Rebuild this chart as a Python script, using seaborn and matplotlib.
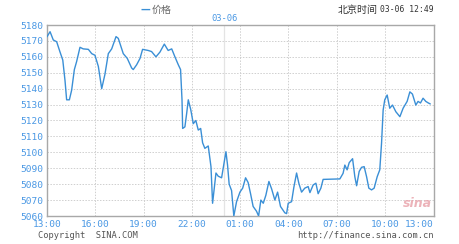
import matplotlib
matplotlib.use("Agg")
import matplotlib.pyplot as plt
import seaborn as sns
import pandas as pd

# hours elapsed since 13:00 (previous day) and price
hours = [0.00, 0.19, 0.39, 0.60, 0.81, 0.98, 1.12, 1.22, 1.39, 1.53, 1.70, 1.84,
         2.05, 2.25, 2.57, 2.78, 2.98, 3.19, 3.40, 3.60, 3.81, 4.02, 4.29, 4.43,
         4.74, 4.99, 5.26, 5.36, 5.57, 5.78, 5.94, 6.29, 6.50, 6.77, 7.02, 7.29,
         7.53, 7.75, 7.95, 8.16, 8.30, 8.39, 8.43, 8.57, 8.68, 8.78, 8.93, 9.09,
         9.25, 9.40, 9.55, 9.67, 9.81, 10.02, 10.19, 10.29, 10.50, 10.64, 10.85,
         11.12, 11.22, 11.32, 11.47, 11.61, 11.78, 11.99, 12.16, 12.34, 12.50,
         12.65, 12.81, 13.02, 13.15, 13.29, 13.44, 13.60, 13.79, 13.96, 14.16,
         14.33, 14.51, 14.78, 14.89, 14.99, 15.20, 15.34, 15.51, 15.65, 15.82,
         16.02, 16.23, 16.34, 16.54, 16.71, 16.85, 17.02, 17.16, 18.20, 18.40,
         18.51, 18.65, 18.78, 18.99, 19.13, 19.24, 19.40, 19.55, 19.71, 19.86,
         20.00, 20.17, 20.33, 20.52, 20.68, 20.79, 20.89, 20.99, 21.14, 21.30,
         21.47, 21.68, 21.93, 22.13, 22.38, 22.55, 22.71, 22.92, 23.06, 23.21,
         23.37, 23.54, 23.70, 23.82]
price = [5172.6, 5175.8, 5170.6, 5169.5, 5163, 5158, 5145, 5133, 5133, 5139,
         5152, 5157, 5166, 5165, 5164.7, 5162, 5161, 5154, 5140, 5149, 5162,
         5165, 5172.7, 5171.6, 5162, 5159, 5153, 5152, 5155, 5159, 5164.7,
         5164, 5163.3, 5160, 5163, 5168, 5164, 5165, 5160, 5155, 5152, 5133,
         5115, 5116, 5124.5, 5133, 5127, 5118, 5120, 5114, 5115, 5106, 5102.5,
         5104, 5091, 5068, 5087, 5085, 5084, 5100.4, 5092, 5080, 5076, 5060,
         5069, 5075, 5077.5, 5084, 5081, 5074, 5066, 5063, 5060, 5070, 5068,
         5073, 5081.7, 5077, 5070, 5075, 5066, 5062, 5061.5, 5068, 5069, 5078,
         5087, 5080.6, 5075, 5077.5, 5078.5, 5074.7, 5079.5, 5080.6, 5074,
         5077.5, 5083, 5083.3, 5086.8, 5092, 5089, 5093.5, 5096, 5084.7, 5079,
         5088, 5090.6, 5091, 5084.7, 5077.5, 5076.4, 5077.5, 5084.7, 5089,
         5105.7, 5126.6, 5133, 5136, 5127.7, 5129.7, 5125.5, 5122.4, 5127.7,
         5132, 5138, 5136.6, 5129.7, 5132, 5131, 5134, 5132, 5131, 5130.4]

x_ticks = [0, 3, 6, 9, 12, 15, 18, 21, 24]
x_labels = ["13:00", "16:00", "19:00", "22:00", "01:00", "04:00", "07:00", "10:00", "13:00"]
y_ticks = list(range(5060, 5181, 10))

df = pd.DataFrame({"h": hours, "price": price})

sns.set_theme(style="white")
plt.rcParams['font.family'] = ['DejaVu Sans Mono', 'Noto Sans CJK SC']

fig = plt.figure(figsize=(4.6, 2.44), dpi=100)
ax = fig.add_axes([47/460, 1-216/244, (434-47)/460, (216-25)/244])

blue = "#3a8fd6"
lab_blue = "#4a98e4"
sns.lineplot(data=df, x="h", y="price", ax=ax, color=blue, linewidth=1.0, zorder=3)

ax.set_xlim(0, 24.05)
ax.set_ylim(5060, 5180)
ax.set_xticks(x_ticks)
ax.set_xticklabels(x_labels)
ax.set_yticks(y_ticks)
ax.tick_params(axis="both", length=0, labelsize=6.8, colors=lab_blue, pad=3)
lbls = ax.get_xticklabels()
lbls[-1].set_horizontalalignment("right")
lbls[-1].set_x(24.05)
ax.set_xlabel("")
ax.set_ylabel("")

for y in y_ticks[1:-1]:
    ax.axhline(y, color="#cfcfcf", lw=0.7, ls=(0, (1.5, 1.5)), zorder=1)
for x in x_ticks[1:-1]:
    ax.axvline(x, color="#cfcfcf", lw=0.7, ls=(0, (1.5, 1.5)), zorder=1)
ax.axvline(11, color="#e4e4e4", lw=0.9, zorder=1)

for s in ax.spines.values():
    s.set_color("#a8a8a8")
    s.set_linewidth(1.0)

# texts
fig.text(141/460, 1-10/244, "\u2014", color=blue, fontsize=7, fontweight="bold",
         va="center", ha="left", family="DejaVu Sans")
fig.text(152/460, 1-10/244, "价格", color="#666666", fontsize=7.2, va="center",
         ha="left", family=["Noto Sans CJK SC"])
ax.text(11, 5181.5, "03-06", color=lab_blue, fontsize=6.3, ha="center", va="bottom")
fig.text(378/460, 1-10/244, "北京时间", color="#333333", fontsize=7.2, va="center",
         ha="right", family=["Noto Sans CJK SC"])
fig.text(434/460, 1-10/244, "03-06 12:49", color="#333333", fontsize=5.8,
         va="center", ha="right")
fig.text(38/460, 1-236/244, "Copyright  SINA.COM", color="#555555", fontsize=6.3,
         va="center", ha="left")
fig.text(434/460, 1-236/244, "http://finance.sina.com.cn", color="#555555",
         fontsize=6.3, va="center", ha="right")
ax.text(23.9, 5064, "sina", color="#e8a0a8", fontsize=9, style="italic",
        fontweight="bold", ha="right", va="bottom", family="DejaVu Sans", alpha=0.8)

fig.savefig("out.png", dpi=100)
